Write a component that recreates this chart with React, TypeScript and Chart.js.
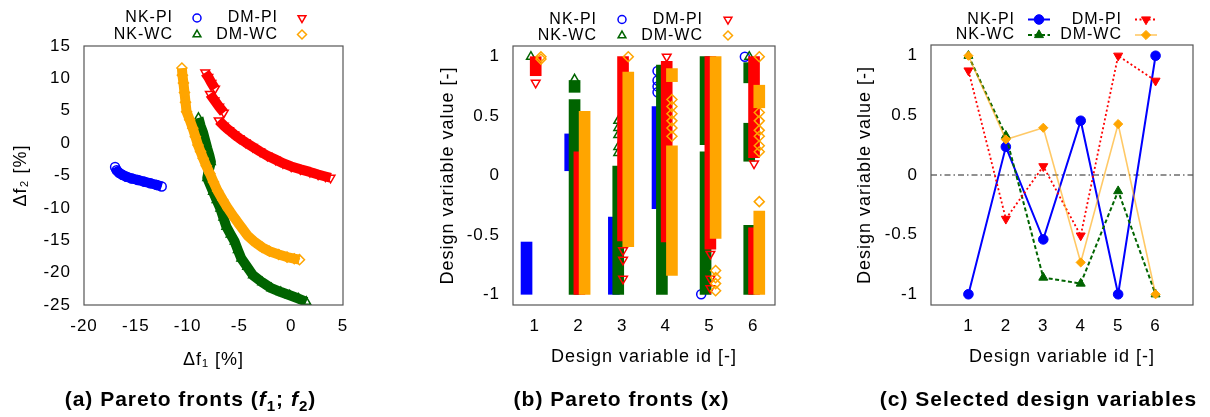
import React, { useEffect, useRef } from 'react';
import { Chart, registerables } from 'chart.js';
import { drawPoint } from 'chart.js/helpers';

Chart.register(...registerables);

const FONT = '"Liberation Sans", Arial, Helvetica, sans-serif';

// ---------------- Panel (a): Pareto fronts (f1; f2) ----------------
const aXTicks = [-20, -15, -10, -5, 0, 5];
const aYTicks = [-25, -20, -15, -10, -5, 0, 5, 10, 15];

const frontNkPiF1 = [-17.0, -16.85, -16.6, -16.3, -15.9, -15.4, -14.8, -14.2, -13.6, -13.0, -12.5];
const frontNkPiF2 = [-3.7, -4.2, -4.6, -4.9, -5.2, -5.45, -5.7, -5.95, -6.2, -6.45, -6.7];

const frontNkWcF1 = [-8.95, -8.75, -8.5, -8.3, -8.1, -7.9, -7.75, -7.95, -8.1, -7.55, -7.2, -6.84, -6.55, -6.26, -5.85, -5.46, -5.15, -4.82, -4.25, -3.69, -2.8, -1.92, -1.0, -0.14, 0.7, 1.46];
const frontNkWcF2 = [3.9, 2.7, 1.6, 0.4, -0.8, -1.9, -2.9, -4.2, -5.4, -7.5, -8.8, -10.1, -11.5, -12.9, -14.1, -15.2, -16.5, -17.8, -19.1, -20.4, -21.5, -22.4, -23.0, -23.5, -24.0, -24.5];

const frontDmPiF1 = [-8.3, -8.0, -7.7, -7.35, null, -7.85, -7.4, -6.95, -6.5, null, -7.0, -6.5, -6.0, -5.5, -5.0, -4.4, -3.7, -3.0, -2.3, -1.5, -0.8, 0.0, 0.9, 1.8, 2.6, 3.3, 3.8];
const frontDmPiF2 = [10.9, 10.2, 9.3, 8.4, null, 7.6, 6.6, 5.6, 4.7, null, 3.5, 2.7, 2.0, 1.35, 0.75, 0.1, -0.6, -1.3, -1.95, -2.55, -3.1, -3.6, -4.05, -4.45, -4.85, -5.15, -5.35];

const frontDmWcF1 = [-10.55, -10.5, -10.4, -10.3, -10.2, -10.1, -9.8, -9.5, -9.25, -9.0, -8.75, -8.5, -8.2, -7.85, -7.5, -7.1, -6.6, -6.1, -5.5, -4.9, -4.2, -3.5, -2.8, -2.1, -1.2, -0.4, 0.3, 0.8];
const frontDmWcF2 = [11.6, 10.5, 9.3, 7.8, 6.3, 4.85, 3.6, 2.3, 1.0, -0.3, -1.3, -2.35, -3.5, -4.7, -6.0, -7.4, -8.8, -10.1, -11.5, -12.8, -14.3, -15.3, -16.1, -16.7, -17.2, -17.6, -17.85, -18.0];

// ---------------- Panel (b): Pareto fronts (x) ----------------
const idTicks = [1, 2, 3, 4, 5, 6];
const valueTicks = [-1, -0.5, 0, 0.5, 1];

const xNkPiBandIds = [1, 2, 3, 4];
const xNkPiBandLo = [-1.0, 0.04, -1.0, -0.28];
const xNkPiBandHi = [-0.56, 0.35, -0.35, 0.58];
const xNkPiPtIds = [4, 4, 4, 4, 5, 6];
const xNkPiPtVals = [0.88, 0.8, 0.75, 0.7, -1.0, 1.0];

const xNkWcBandIds = [2, 2, 3, 4, 5, 5, 6, 6, 6];
const xNkWcBandLo = [0.7, -1.0, -1.0, -1.0, 0.26, -1.0, 0.78, 0.12, -1.0];
const xNkWcBandHi = [0.8, 0.64, 0.08, 0.93, 1.0, 0.2, 0.95, 0.44, -0.42];
const xNkWcPtIds = [1, 2, 3, 3, 3, 3, 3, 6];
const xNkWcPtVals = [1.0, 0.81, 0.46, 0.4, 0.34, 0.24, 0.19, 1.0];

const xDmPiBandIds = [1, 2, 3, 4, 5, 6, 6];
const xDmPiBandLo = [0.84, -1.0, -0.55, -0.56, -0.62, 0.15, -1.0];
const xDmPiBandHi = [1.0, 0.2, 1.0, 0.96, 1.0, 1.0, -0.44];
const xDmPiPtIds = [1, 3, 3, 3, 4, 5, 5, 5, 6, 6, 6];
const xDmPiPtVals = [0.78, -0.63, -0.71, -0.87, 1.0, -0.66, -0.87, -0.95, 0.1, -0.53, -0.67];

const xDmWcBandIds = [2, 3, 4, 4, 5, 6, 6];
const xDmWcBandLo = [-1.0, -0.6, -0.84, 0.79, -0.53, 0.57, -1.0];
const xDmWcBandHi = [0.54, 0.87, 0.25, 0.9, 1.0, 0.76, -0.3];
const xDmWcPtIds = [1, 1, 3, 4, 4, 4, 4, 4, 4, 5, 5, 5, 5, 6, 6, 6, 6, 6, 6, 6, 6];
const xDmWcPtVals = [1.0, 0.98, 1.0, 0.64, 0.58, 0.52, 0.46, 0.4, 0.33, -0.8, -0.86, -0.91, -0.97, 1.0, 0.53, 0.46, 0.38, 0.33, 0.25, 0.2, -0.22];

// ---------------- Panel (c): Selected design variables ----------------
const selIds = [1, 2, 3, 4, 5, 6];
const selNkPi = [-1.0, 0.236, -0.54, 0.455, -1.0, 1.0];
const selNkWc = [1.0, 0.33, -0.86, -0.91, -0.135, -1.0];
const selDmPi = [0.876, -0.368, 0.073, -0.508, 1.0, 0.79];
const selDmWc = [1.0, 0.298, 0.396, -0.733, 0.427, -1.0];
const zeroLineX = [0, 7];
const zeroLineY = [0, 0];

// ---------------- styles ----------------
const C_BLUE = '#0000ff';
const C_GREEN = '#006400';
const C_RED = '#ff0000';
const C_ORANGE = '#ffa500';
const HOLLOW = 'rgba(0,0,0,0)';
const B_OFFSET = { nkPi: -0.19, nkWc: -0.09, dmPi: 0.02, dmWc: 0.14 };

const zip = (xs: (number | null)[], ys: (number | null)[]) =>
  xs.map((x, i) => ({ x, y: ys[i] }));
const bands = (ids: number[], lo: number[], hi: number[], off: number) =>
  ids.map((id, i) => ({ x: id + off, y: [lo[i], hi[i]] }));
const pts = (ids: number[], vals: number[], off: number) =>
  ids.map((id, i) => ({ x: id + off, y: vals[i] }));

const TICK_FONT = { family: FONT, size: 17 };
const TITLE_FONT = { family: FONT, size: 18 };

function axis(
  min: number,
  max: number,
  tickVals: number[],
  title: string,
  titlePad: any,
  fitSize: number,
  horizontal: boolean
) {
  return {
    type: 'linear',
    min,
    max,
    offset: false,
    grid: { display: false, drawTicks: false, offset: false },
    border: { display: false },
    ticks: {
      color: '#000',
      font: TICK_FONT,
      padding: horizontal ? 11 : 13,
      autoSkip: false,
      maxRotation: 0,
      minRotation: 0,
      callback: (v: any) => String(v),
    },
    afterBuildTicks: (s: any) => {
      s.ticks = tickVals.map((v) => ({ value: v }));
    },
    afterFit: (s: any) => {
      if (horizontal) s.height = fitSize;
      else s.width = fitSize;
    },
    title: { display: true, text: title, color: '#000', font: TITLE_FONT, padding: titlePad },
  };
}

const spacingPlugin = {
  id: 'spacing',
  beforeLayout(chart: any) {
    (chart.ctx as any).letterSpacing = '1px';
  },
  beforeDraw(chart: any) {
    (chart.ctx as any).letterSpacing = '1px';
  },
};

const boxPlugin = {
  id: 'box',
  afterDatasetsDraw(chart: any) {
    const { ctx, chartArea: a } = chart;
    ctx.save();
    ctx.strokeStyle = '#555';
    ctx.lineWidth = 1.2;
    ctx.strokeRect(a.left, a.top, a.right - a.left, a.bottom - a.top);
    ctx.restore();
  },
};

const legendPlugin = {
  id: 'gnuLegend',
  afterDraw(chart: any, _args: any, opts: any) {
    const ctx = chart.ctx;
    ctx.save();
    (ctx as any).letterSpacing = '1px';
    ctx.font = `${opts.fontSize}px ${FONT}`;
    ctx.textAlign = 'right';
    ctx.textBaseline = 'middle';
    chart.data.datasets.forEach((ds: any) => {
      if (ds.legendSlot === undefined) return;
      const col = ds.legendSlot % 2;
      const row = Math.floor(ds.legendSlot / 2);
      const y = opts.rows[row];
      const tx = opts.textRight[col];
      ctx.fillStyle = '#000';
      ctx.fillText(ds.label, tx, y);
      const sx = tx + opts.gap;
      if (opts.line) {
        ctx.save();
        ctx.strokeStyle = ds.borderColor;
        ctx.lineWidth = ds.borderWidth;
        ctx.setLineDash(ds.borderDash || []);
        ctx.beginPath();
        ctx.moveTo(sx - 11, y);
        ctx.lineTo(sx + 11, y);
        ctx.stroke();
        ctx.restore();
      }
      ctx.save();
      ctx.setLineDash([]);
      ctx.fillStyle = ds.pointBackgroundColor;
      ctx.strokeStyle = ds.pointBorderColor;
      ctx.lineWidth = ds.pointBorderWidth;
      drawPoint(
        ctx,
        {
          pointStyle: ds.pointStyle,
          rotation: ds.pointRotation || 0,
          radius: ds.legendRadius || ds.pointRadius,
          borderWidth: ds.pointBorderWidth,
        } as any,
        sx,
        y
      );
      ctx.restore();
    });
    ctx.restore();
  },
};

const basePlugins = { legend: { display: false }, tooltip: { enabled: false } };

function frontDataset(label: string, color: string, style: string, rot: number, xs: any[], ys: any[], order: number, slot: number, r: number) {
  return {
    type: 'scatter',
    label,
    data: zip(xs, ys),
    showLine: true,
    spanGaps: false,
    borderColor: color,
    borderWidth: 10,
    borderCapStyle: 'butt',
    borderJoinStyle: 'round',
    tension: 0,
    pointStyle: style,
    pointRotation: rot,
    pointRadius: r,
    pointBorderWidth: 1.5,
    pointBackgroundColor: HOLLOW,
    pointBorderColor: color,
    legendRadius: r - 0.5,
    order,
    legendSlot: slot,
  };
}

function configA(): any {
  return {
    type: 'scatter',
    data: {
      datasets: [
        frontDataset('NK-PI', C_BLUE, 'circle', 0, frontNkPiF1, frontNkPiF2, 4, 0, 4.5),
        frontDataset('NK-WC', C_GREEN, 'triangle', 0, frontNkWcF1, frontNkWcF2, 3, 2, 5),
        frontDataset('DM-PI', C_RED, 'triangle', 180, frontDmPiF1, frontDmPiF2, 2, 1, 5),
        frontDataset('DM-WC', C_ORANGE, 'rectRot', 0, frontDmWcF1, frontDmWcF2, 1, 3, 5),
      ],
    },
    options: {
      responsive: false,
      animation: false,
      devicePixelRatio: 1,
      events: [],
      layout: { padding: { left: 0, top: 46, right: 60, bottom: 0 } },
      plugins: {
        ...basePlugins,
        gnuLegend: { fontSize: 16, rows: [18, 34.5], textRight: [173, 278], gap: 24, line: false },
      },
      scales: {
        x: axis(-20, 5, aXTicks, 'Δf₁ [%]', { top: 0, bottom: 46 }, 112, true),
        y: axis(-25, 15, aYTicks, 'Δf₂ [%]', { top: 10, bottom: 0 }, 84, false),
      },
    },
    plugins: [spacingPlugin, boxPlugin, legendPlugin],
  };
}

function bandSet(label: string, color: string, data: any[], order: number) {
  return {
    type: 'bar',
    label: label + ' range',
    data,
    backgroundColor: color,
    borderWidth: 0,
    grouped: false,
    barThickness: 11,
    order,
  };
}

function pointSet(label: string, color: string, style: string, rot: number, data: any[], order: number, slot: number, r: number) {
  return {
    type: 'scatter',
    label,
    data,
    showLine: false,
    pointStyle: style,
    pointRotation: rot,
    pointRadius: r,
    pointBorderWidth: 1.5,
    pointBackgroundColor: HOLLOW,
    pointBorderColor: color,
    borderColor: color,
    legendRadius: r - 0.5,
    order,
    legendSlot: slot,
  };
}

function configB(): any {
  return {
    type: 'scatter',
    data: {
      datasets: [
        bandSet('NK-PI', C_BLUE, bands(xNkPiBandIds, xNkPiBandLo, xNkPiBandHi, B_OFFSET.nkPi), 8),
        pointSet('NK-PI', C_BLUE, 'circle', 0, pts(xNkPiPtIds, xNkPiPtVals, B_OFFSET.nkPi), 7, 0, 4.5),
        bandSet('NK-WC', C_GREEN, bands(xNkWcBandIds, xNkWcBandLo, xNkWcBandHi, B_OFFSET.nkWc), 6),
        pointSet('NK-WC', C_GREEN, 'triangle', 0, pts(xNkWcPtIds, xNkWcPtVals, B_OFFSET.nkWc), 5, 2, 5),
        bandSet('DM-PI', C_RED, bands(xDmPiBandIds, xDmPiBandLo, xDmPiBandHi, B_OFFSET.dmPi), 4),
        pointSet('DM-PI', C_RED, 'triangle', 180, pts(xDmPiPtIds, xDmPiPtVals, B_OFFSET.dmPi), 3, 1, 5),
        bandSet('DM-WC', C_ORANGE, bands(xDmWcBandIds, xDmWcBandLo, xDmWcBandHi, B_OFFSET.dmWc), 2),
        pointSet('DM-WC', C_ORANGE, 'rectRot', 0, pts(xDmWcPtIds, xDmWcPtVals, B_OFFSET.dmWc), 1, 3, 5),
      ],
    },
    options: {
      responsive: false,
      animation: false,
      devicePixelRatio: 1,
      events: [],
      layout: { padding: { left: 0, top: 46, right: 31, bottom: 0 } },
      plugins: {
        ...basePlugins,
        gnuLegend: { fontSize: 16, rows: [19.5, 35.5], textRight: [194, 300], gap: 25, line: false },
      },
      scales: {
        x: axis(0.5, 6.5, idTicks, 'Design variable id [-]', { top: 0, bottom: 49 }, 112, true),
        y: axis(-1.09, 1.09, valueTicks, 'Design variable value [-]', { top: 34, bottom: 0 }, 110, false),
      },
    },
    plugins: [spacingPlugin, boxPlugin, legendPlugin],
  };
}

function selSet(label: string, color: string, lineColor: string, width: number, dash: number[], style: string, rot: number, r: number, vals: number[], order: number, slot: number) {
  return {
    type: 'scatter',
    label,
    data: zip(selIds, vals),
    showLine: true,
    tension: 0,
    borderColor: lineColor,
    borderWidth: width,
    borderDash: dash,
    pointStyle: style,
    pointRotation: rot,
    pointRadius: r,
    pointBorderWidth: 1,
    pointBackgroundColor: color,
    pointBorderColor: color,
    order,
    legendSlot: slot,
  };
}

function configC(): any {
  return {
    type: 'scatter',
    data: {
      datasets: [
        {
          type: 'scatter',
          label: 'zero',
          data: zip(zeroLineX, zeroLineY),
          showLine: true,
          borderColor: '#222',
          borderWidth: 1,
          borderDash: [6, 3, 1.5, 3],
          pointRadius: 0,
          order: 10,
        },
        selSet('NK-PI', C_BLUE, C_BLUE, 2, [], 'circle', 0, 4.8, selNkPi, 4, 0),
        selSet('NK-WC', C_GREEN, C_GREEN, 2, [4, 2.5], 'triangle', 0, 5.2, selNkWc, 3, 2),
        selSet('DM-PI', C_RED, C_RED, 1.8, [2, 2.5], 'triangle', 180, 5.2, selDmPi, 2, 1),
        selSet('DM-WC', C_ORANGE, 'rgba(255,165,0,0.6)', 1.6, [], 'rectRot', 0, 4.6, selDmWc, 1, 3),
      ],
    },
    options: {
      responsive: false,
      animation: false,
      devicePixelRatio: 1,
      events: [],
      layout: { padding: { left: 0, top: 45, right: 17, bottom: 0 } },
      plugins: {
        ...basePlugins,
        gnuLegend: { fontSize: 16, rows: [19.5, 35], textRight: [209, 316], gap: 24, line: true },
      },
      scales: {
        x: axis(0, 7, idTicks, 'Design variable id [-]', { top: 0, bottom: 49 }, 112, true),
        y: axis(-1.09, 1.09, valueTicks, 'Design variable value [-]', { top: 48, bottom: 0 }, 125, false),
      },
    },
    plugins: [spacingPlugin, boxPlugin, legendPlugin],
  };
}

const captionStyle = (cx: number): React.CSSProperties => ({
  position: 'absolute',
  left: cx,
  top: 387,
  transform: 'translateX(-50%)',
  whiteSpace: 'nowrap',
  fontFamily: FONT,
  fontWeight: 'bold',
  fontSize: 21,
  lineHeight: '24px',
  letterSpacing: '1px',
  color: '#000',
});
const subStyle: React.CSSProperties = { fontSize: '0.72em', verticalAlign: '-0.3em', lineHeight: 0 };

export default function App() {
  const refA = useRef<HTMLCanvasElement>(null);
  const refB = useRef<HTMLCanvasElement>(null);
  const refC = useRef<HTMLCanvasElement>(null);

  useEffect(() => {
    const charts = [
      new Chart(refA.current as HTMLCanvasElement, configA()),
      new Chart(refB.current as HTMLCanvasElement, configB()),
      new Chart(refC.current as HTMLCanvasElement, configC()),
    ];
    return () => charts.forEach((c) => c.destroy());
  }, []);

  const cv = (left: number, width: number): React.CSSProperties => ({
    position: 'absolute',
    left,
    top: 0,
    width,
    height: 417,
  });

  return (
    <div style={{ position: 'absolute', left: 0, top: 0, width: 1210, height: 417, background: '#fff', overflow: 'hidden' }}>
      <canvas ref={refA} width={403} height={417} style={cv(0, 403)} />
      <canvas ref={refB} width={403} height={417} style={cv(403, 403)} />
      <canvas ref={refC} width={404} height={417} style={cv(806, 404)} />
      <div style={captionStyle(190.5)}>
        (a) Pareto fronts (<i>f</i>
        <sub style={subStyle}>1</sub>; <i>f</i>
        <sub style={subStyle}>2</sub>)
      </div>
      <div style={captionStyle(621.5)}>(b) Pareto fronts (x)</div>
      <div style={captionStyle(1038.5)}>(c) Selected design variables</div>
    </div>
  );
}
